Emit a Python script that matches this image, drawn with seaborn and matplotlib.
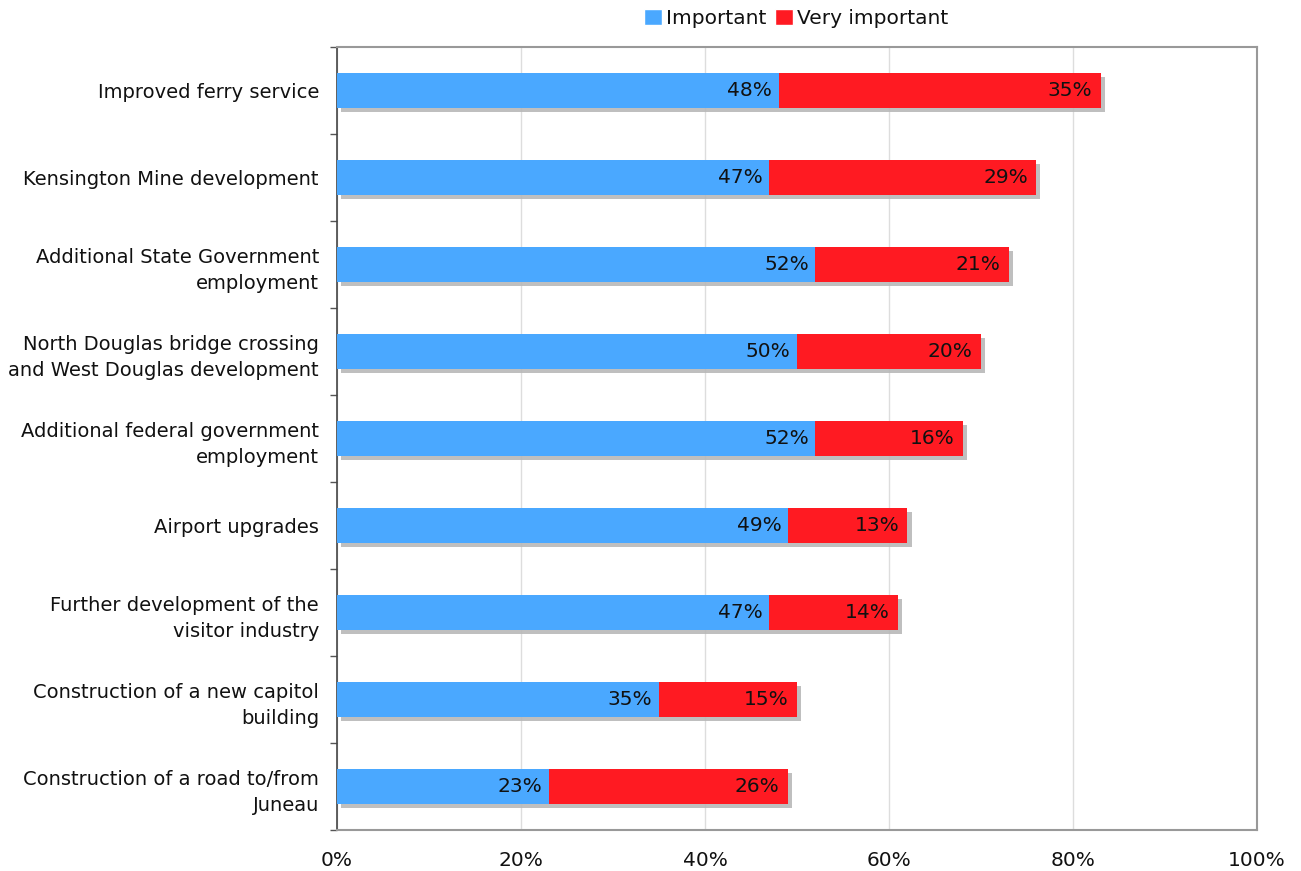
import matplotlib
matplotlib.use("Agg")
import matplotlib.pyplot as plt
import matplotlib.patheffects as pe
from matplotlib.patches import Patch
import numpy as np
import pandas as pd
import seaborn as sns

categories = [
    "Improved ferry service",
    "Kensington Mine development",
    "Additional State Government\nemployment",
    "North Douglas bridge crossing\nand West Douglas development",
    "Additional federal government\nemployment",
    "Airport upgrades",
    "Further development of the\nvisitor industry",
    "Construction of a new capitol\nbuilding",
    "Construction of a road to/from\nJuneau",
]
important = [48, 47, 52, 50, 52, 49, 47, 35, 23]
very_important = [35, 29, 21, 20, 16, 13, 14, 15, 26]
series_names = ["Important", "Very important"]
x_ticks = [0, 20, 40, 60, 80, 100]

BLUE = "#4aa8ff"
RED = "#ff1a22"
TEXT = "#111111"

df = pd.DataFrame({
    "category": categories,
    "important": important,
    "very": very_important,
})
df["total"] = df["important"] + df["very"]

sns.set_theme(style="white")
plt.rcParams["font.family"] = ["DejaVu Sans"]

fig = plt.figure(figsize=(13.01, 8.71), dpi=100)
ax = fig.add_axes([0.259, 0.047, 0.7072, 0.899])

shadow = [pe.SimplePatchShadow(offset=(3, -3), shadow_rgbFace="#b8b8b8", alpha=0.9), pe.Normal()]

# stacked: full total in red, then the "Important" share in blue on top
sns.barplot(data=df, y="category", x="total", orient="h", color=RED,
            saturation=1, width=0.4, ax=ax, linewidth=0, zorder=3)
n = len(categories)
for p in ax.patches[:n]:
    p.set_path_effects(shadow)
sns.barplot(data=df, y="category", x="important", orient="h", color=BLUE,
            saturation=1, width=0.4, ax=ax, linewidth=0, zorder=4)

for i, (imp, tot, v) in enumerate(zip(important, df["total"], very_important)):
    ax.text(imp - 0.7, i, f"{imp}%", ha="right", va="center", fontsize=14.5,
            color=TEXT, zorder=5)
    ax.text(tot - 0.9, i, f"{v}%", ha="right", va="center", fontsize=14.5,
            color=TEXT, zorder=5)

ax.set_xlim(0, 100)
ax.set_ylim(n - 0.5, -0.5)
ax.set_xticks(x_ticks)
ax.set_xticklabels([f"{t}%" for t in x_ticks], fontsize=14.5, color=TEXT)
ax.tick_params(axis="x", length=0, pad=15)
ax.set_yticks(range(n))
ax.set_yticklabels(categories, fontsize=14, linespacing=1.5, color=TEXT)
ax.tick_params(axis="y", which="major", length=0, pad=13)
ax.set_yticks(np.arange(-0.5, n, 1.0), minor=True)
ax.tick_params(axis="y", which="minor", length=5, width=1, color="#555555", left=True)
ax.set_xlabel("")
ax.set_ylabel("")

ax.grid(axis="x", color="#dddddd", linewidth=1, zorder=0)
ax.set_axisbelow(True)
for side in ["top", "right", "bottom"]:
    ax.spines[side].set_visible(True)
    ax.spines[side].set_color("#999999")
    ax.spines[side].set_linewidth(1.5)
ax.spines["left"].set_color("#444444")
ax.spines["left"].set_linewidth(1.2)

handles = [Patch(facecolor=BLUE, label=series_names[0]),
           Patch(facecolor=RED, label=series_names[1])]
fig.legend(handles=handles, loc="center", bbox_to_anchor=(0.612, 0.979), ncol=2,
           frameon=False, fontsize=14.5, handlelength=0.9, handleheight=0.9,
           handletextpad=0.2, columnspacing=0.4, labelcolor=TEXT)

fig.savefig("out.png", dpi=100, facecolor="white")
